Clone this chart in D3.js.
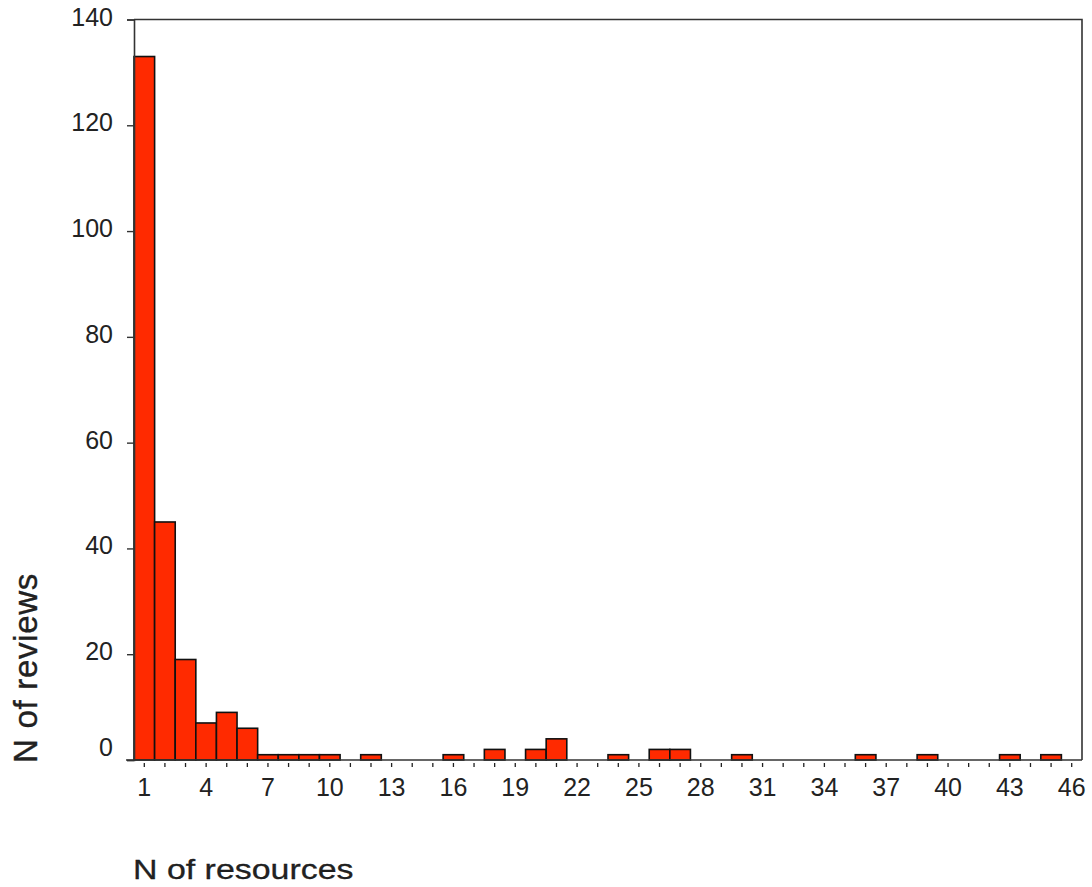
<!DOCTYPE html>
<html>
<head>
<meta charset="utf-8">
<script src="https://cdn.jsdelivr.net/npm/d3@7"></script>
<style>
  html, body { margin: 0; padding: 0; background: #fff; }
  svg { display: block; }
  text { font-family: "Liberation Sans", Arial, sans-serif; fill: #222; }
</style>
</head>
<body>
<svg id="chart" width="1092" height="887"></svg>
<script>
// Data
const categories = d3.range(1, 47); // N of resources 1..46
const resources = [1, 2, 3, 4, 5, 6, 7, 8, 9, 10, 12, 16, 18, 20, 21, 24, 26, 27, 30, 36, 39, 43, 45];
const reviews   = [133, 45, 19, 7, 9, 6, 1, 1, 1, 1, 1, 1, 2, 2, 4, 1, 2, 2, 1, 1, 1, 1, 1];
const yTicks = [0, 20, 40, 60, 80, 100, 120, 140];
const xTickLabels = d3.range(1, 47, 3);
const xTitle = "N of resources";
const yTitle = "N of reviews";

const svg = d3.select("#chart");
const plotLeft = 134, plotRight = 1082, plotTop = 19.5, plotBottom = 760;

const x = d3.scaleBand().domain(categories).range([plotLeft, plotRight]).padding(0);
const y = d3.scaleLinear().domain([0, 140]).range([plotBottom, plotTop]);

// Bars
svg.append("g").selectAll("rect")
  .data(resources.map((r, i) => ({ r, v: reviews[i] })))
  .join("rect")
  .attr("x", d => x(d.r))
  .attr("y", d => y(d.v))
  .attr("width", x.bandwidth())
  .attr("height", d => y(0) - y(d.v))
  .attr("fill", "#ff2a00")
  .attr("stroke", "#111")
  .attr("stroke-width", 1.6);

// Frame (top and right)
svg.append("path")
  .attr("d", `M${plotLeft},${plotTop}H${plotRight}V${plotBottom}`)
  .attr("fill", "none").attr("stroke", "#333").attr("stroke-width", 1.6);

// Y axis
const yAxis = d3.axisLeft(y).tickValues(yTicks).tickSize(7).tickPadding(14);
const gy = svg.append("g").attr("transform", `translate(${plotLeft},0)`).call(yAxis);
gy.select(".domain").attr("stroke", "#333").attr("stroke-width", 1.6);
gy.selectAll(".tick line").attr("stroke", "#333").attr("stroke-width", 1.4);
gy.selectAll(".tick text")
  .attr("font-size", 25).attr("fill", "#222")
  .attr("dy", d => d === 0 ? "-0.2em" : "0.22em")
  .style("font-family", "'Liberation Sans', Arial, sans-serif");

// X axis
const xAxis = d3.axisBottom(x).tickSizeInner(0).tickSizeOuter(0).tickFormat(d => xTickLabels.includes(d) ? d : "").tickPadding(18);
const gx = svg.append("g").attr("transform", `translate(0,${plotBottom})`).call(xAxis);
gx.select(".domain").remove();
svg.append("line")
  .attr("x1", plotLeft - 8).attr("x2", plotRight).attr("y1", plotBottom).attr("y2", plotBottom)
  .attr("stroke", "#333").attr("stroke-width", 1.6);
gx.selectAll(".tick").append("line")
  .attr("y1", 3).attr("y2", 7).attr("stroke", "#222").attr("stroke-width", 1.3);
gx.selectAll(".tick text")
  .attr("font-size", 25).attr("fill", "#222")
  .style("font-family", "'Liberation Sans', Arial, sans-serif");

// Titles
svg.append("text")
  .attr("transform", "translate(133,879) scale(1.33,1.05)")
  .attr("font-size", 25.5)
  .attr("fill", "#111").attr("stroke", "#111").attr("stroke-width", 0.25)
  .text(xTitle);
svg.append("text")
  .attr("transform", "translate(37,763) rotate(-90)")
  .attr("font-size", 33).attr("letter-spacing", 0.7)
  .attr("fill", "#111").attr("stroke", "#111").attr("stroke-width", 0.35)
  .text(yTitle);
</script>
</body>
</html>
